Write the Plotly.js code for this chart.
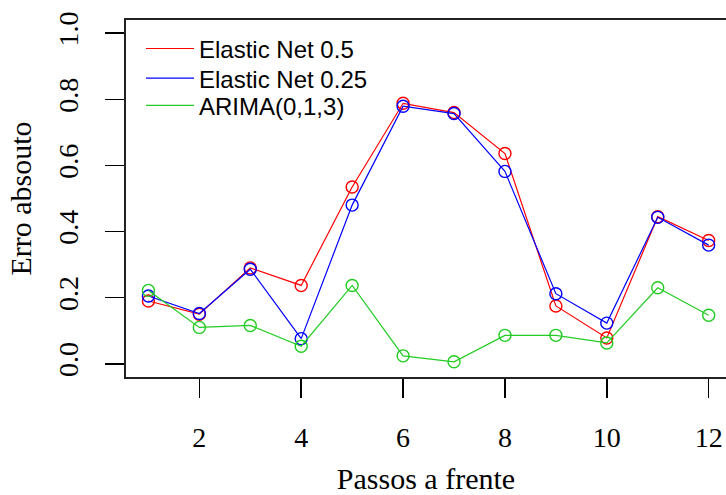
<!DOCTYPE html>
<html>
<head>
<meta charset="utf-8">
<script src="https://cdn.plot.ly/plotly-3.0.1.min.js"></script>
<style>
  html, body { margin: 0; padding: 0; background: #fff; overflow: hidden; }
  #chart { width: 726px; height: 495px; }
</style>
</head>
<body>
<div id="chart"></div>
<script>
// Data
const passos = [1, 2, 3, 4, 5, 6, 7, 8, 9, 10, 11, 12];
const elasticNet05  = [0.190, 0.150, 0.290, 0.237, 0.535, 0.788, 0.760, 0.636, 0.175, 0.078, 0.445, 0.373];
const elasticNet025 = [0.205, 0.152, 0.286, 0.076, 0.480, 0.779, 0.757, 0.582, 0.212, 0.123, 0.443, 0.359];
const arima013      = [0.222, 0.110, 0.116, 0.053, 0.237, 0.024, 0.006, 0.086, 0.086, 0.063, 0.230, 0.147];
const seriesNames = ['Elastic Net 0.5', 'Elastic Net 0.25', 'ARIMA(0,1,3)'];
const seriesColors = ['#ff0000', '#0000ff', '#22cc22'];
const xTicks = [2, 4, 6, 8, 10, 12];
const yTicks = [0.0, 0.2, 0.4, 0.6, 0.8, 1.0];
const yTickLabels = ['0.0', '0.2', '0.4', '0.6', '0.8', '1.0'];

const allSeries = [elasticNet05, elasticNet025, arima013];
const legendIds = ['legend', 'legend2', 'legend3'];
const legendY = [0.919, 0.836, 0.76];
const traces = [];
allSeries.forEach((ys, i) => {
  traces.push({
    x: passos, y: ys, type: 'scatter', mode: 'lines',
    name: seriesNames[i],
    legend: legendIds[i],
    line: { color: seriesColors[i], width: 1.2 },
    showlegend: true, hoverinfo: 'skip'
  });
  traces.push({
    x: passos, y: ys, type: 'scatter', mode: 'markers',
    name: seriesNames[i],
    marker: { symbol: 'circle-open', size: 12, color: seriesColors[i], line: { width: 1.4, color: seriesColors[i] } },
    showlegend: false, hoverinfo: 'skip'
  });
});

const serif = 'Liberation Serif, Times New Roman, serif';
function legendBox(y) {
  return {
    x: 0.025, y: y, xanchor: 'left', yanchor: 'middle',
    font: { family: 'Liberation Sans, Arial, sans-serif', size: 24, color: '#000' },
    bgcolor: 'rgba(0,0,0,0)', borderwidth: 0,
    itemwidth: 48
  };
}
const layout = {
  width: 726, height: 495,
  margin: { l: 126, r: 0, t: 20, b: 118 },
  paper_bgcolor: '#ffffff', plot_bgcolor: '#ffffff',
  showlegend: true,
  legend: legendBox(legendY[0]),
  legend2: legendBox(legendY[1]),
  legend3: legendBox(legendY[2]),
  xaxis: {
    range: [0.56, 12.34],
    tickvals: xTicks,
    ticktext: xTicks.map(String),
    ticks: 'outside', ticklen: 19, tickwidth: 1.5, tickcolor: '#000',
    showline: true, linecolor: '#222', linewidth: 1.8, mirror: true,
    showgrid: false, zeroline: false,
    tickfont: { family: serif, size: 28, color: '#000' },
    ticklabelstandoff: 16,
    title: { text: 'Passos a frente', font: { family: serif, size: 30, color: '#000' }, standoff: 30 }
  },
  yaxis: {
    range: [-0.04, 1.04],
    tickvals: yTicks,
    ticktext: yTickLabels,
    tickangle: -90,
    ticks: 'outside', ticklen: 19, tickwidth: 1.5, tickcolor: '#000',
    showline: true, linecolor: '#222', linewidth: 1.8, mirror: false,
    showgrid: false, zeroline: false,
    tickfont: { family: serif, size: 28, color: '#000' },
    ticklabelstandoff: 16,
    title: { text: 'Erro absouto', font: { family: serif, size: 30, color: '#000' }, standoff: 12 }
  }
};

Plotly.newPlot('chart', traces, layout, { displayModeBar: false, staticPlot: true });
</script>
</body>
</html>
